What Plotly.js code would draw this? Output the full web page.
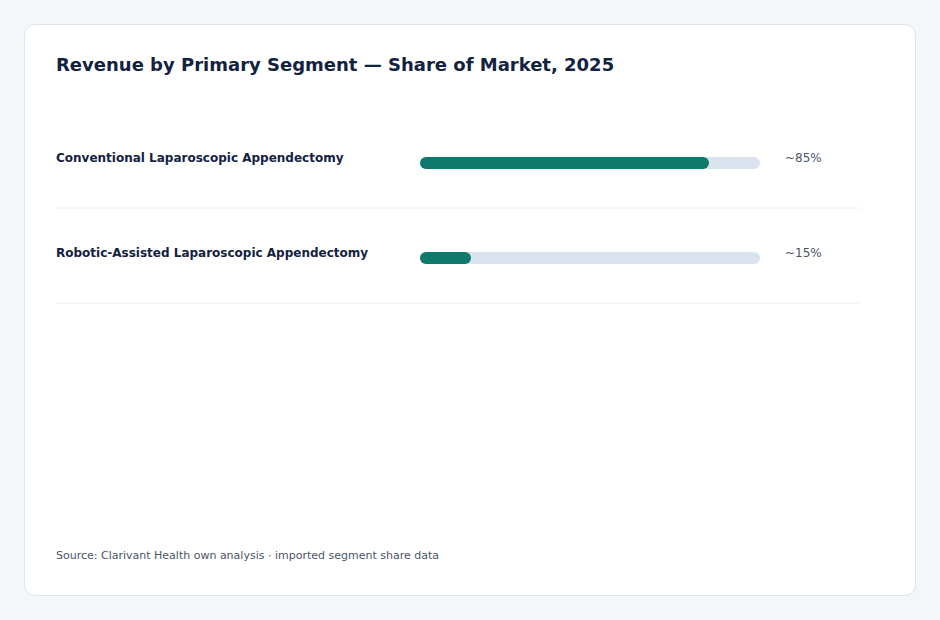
<!DOCTYPE html>
<html>
<head>
<meta charset="utf-8">
<script src="https://cdn.plot.ly/plotly-3.0.1.min.js"></script>
<style>
  html, body { margin: 0; padding: 0; background: #f4f7fa; }
  #chart { width: 940px; height: 620px; }
</style>
</head>
<body>
<div id="chart"></div>
<script>
// ---- data ----
const segments = ["Conventional Laparoscopic Appendectomy", "Robotic-Assisted Laparoscopic Appendectomy"];
const shares = [85, 15];
const shareLabels = ["~85%", "~15%"];
const trackMax = [100, 100];
const chartTitle = "Revenue by Primary Segment — Share of Market, 2025";
const sourceNote = "Source: Clarivant Health own analysis · imported segment share data";

// ---- layout helpers (pixel -> paper) ----
const W = 940, H = 620;
const px = x => x / W;
const py = y => 1 - y / H;

const rows = segments.map((_, i) => i);
const rowPitch = 95, firstCenter = 163;
const yTopPx = 115, yBotPx = 305;
const yRange = [(yBotPx - firstCenter) / rowPitch, (yTopPx - firstCenter) / rowPitch];

const xLeftPx = 420, xRightPx = 760;
const barThick = 12;
// half-thickness expressed in x data units, so round caps stay inside the value span
const capD = (barThick / 2) * 100 / (xRightPx - xLeftPx);

const FONT = "DejaVu Sans";

function pillTrace(values, color) {
  const xs = [], ys = [];
  values.forEach((v, i) => {
    xs.push(capD, Math.max(capD, v - capD), null);
    ys.push(rows[i], rows[i], null);
  });
  return {
    type: "scatter", mode: "lines+markers",
    x: xs, y: ys, connectgaps: false,
    line: { color: color, width: barThick },
    marker: { color: color, size: barThick, line: { width: 0 } },
    hoverinfo: "skip", showlegend: false
  };
}

const traces = [
  pillTrace(trackMax, "#dae4ee"),
  pillTrace(shares, "#0e7a6d")
];

function cardPath(x0, y0, x1, y1, r) {
  const X0 = px(x0), X1 = px(x1), Y0 = py(y0), Y1 = py(y1);
  const rx = r / W, ry = r / H;
  return `M${X0 + rx},${Y0} L${X1 - rx},${Y0} Q${X1},${Y0} ${X1},${Y0 - ry} ` +
         `L${X1},${Y1 + ry} Q${X1},${Y1} ${X1 - rx},${Y1} ` +
         `L${X0 + rx},${Y1} Q${X0},${Y1} ${X0},${Y1 + ry} ` +
         `L${X0},${Y0 - ry} Q${X0},${Y0} ${X0 + rx},${Y0} Z`;
}

const shapes = [
  {
    type: "path", xref: "paper", yref: "paper", layer: "below",
    path: cardPath(24.5, 24.5, 915.5, 595.5, 12),
    fillcolor: "#ffffff", line: { color: "#dde3ea", width: 1 }
  }
];
rows.forEach(r => {
  shapes.push({
    type: "line", xref: "paper", yref: "y", layer: "below",
    x0: px(56), x1: px(860),
    y0: r + 45 / rowPitch, y1: r + 45 / rowPitch,
    line: { color: "#edf0f4", width: 1 }
  });
});

const annotations = [
  {
    text: "<b>" + chartTitle + "</b>", xref: "paper", yref: "paper",
    x: px(54), y: py(64), xanchor: "left", yanchor: "middle", showarrow: false,
    font: { family: FONT, size: 18, color: "#12223f" }
  },
  {
    text: sourceNote, xref: "paper", yref: "paper",
    x: px(54), y: py(555), xanchor: "left", yanchor: "middle", showarrow: false,
    font: { family: FONT, size: 11, color: "#4a5565" }
  }
];
segments.forEach((s, i) => {
  annotations.push({
    text: "<b>" + s + "</b>", xref: "paper", yref: "y",
    x: px(54), y: rows[i], yshift: 5, xanchor: "left", yanchor: "middle", showarrow: false,
    font: { family: FONT, size: 12, color: "#12223f" }
  });
  annotations.push({
    text: shareLabels[i], xref: "paper", yref: "y",
    x: px(783), y: rows[i], yshift: 5, xanchor: "left", yanchor: "middle", showarrow: false,
    font: { family: FONT, size: 12, color: "#4a5565" }
  });
});

const layout = {
  width: W, height: H,
  margin: { l: 0, r: 0, t: 0, b: 0, pad: 0 },
  paper_bgcolor: "#f4f7fa",
  plot_bgcolor: "rgba(0,0,0,0)",
  font: { family: FONT },
  xaxis: {
    domain: [px(xLeftPx), px(xRightPx)], range: [0, 100],
    showgrid: false, zeroline: false, showticklabels: false, showline: false, fixedrange: true
  },
  yaxis: {
    domain: [py(yBotPx), py(yTopPx)], range: yRange,
    showgrid: false, zeroline: false, showticklabels: false, showline: false, fixedrange: true
  },
  shapes: shapes,
  annotations: annotations,
  showlegend: false
};

Plotly.newPlot("chart", traces, layout, { staticPlot: true, displayModeBar: false });
</script>
</body>
</html>
